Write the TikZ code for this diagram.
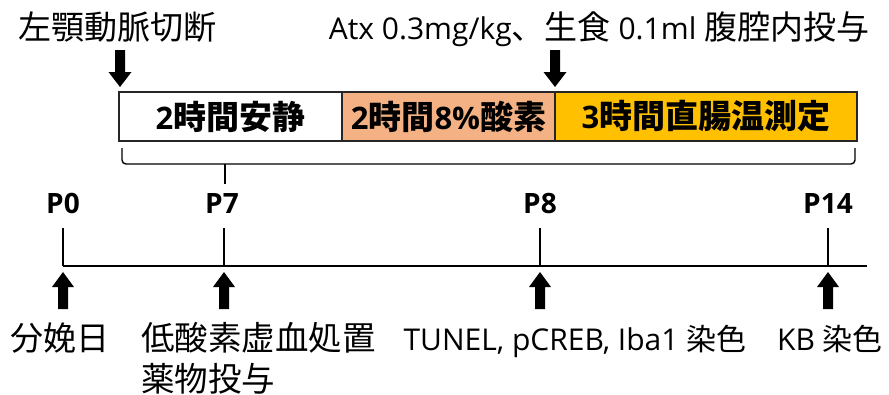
\documentclass[tikz,border=0pt]{standalone}
\usepackage{fontspec}
\setmainfont{Open Sans}
\newfontfamily\cjk{Noto Sans CJK JP}
\newcommand\jp[2][33]{{\cjk\fontsize{#1}{#1}\selectfont #2}}
\definecolor{salmon}{HTML}{F4B183}
\definecolor{gold}{HTML}{FFC000}
\begin{document}
\begin{tikzpicture}[x=1pt,y=-1pt,
  txt/.style={inner sep=0pt, anchor=base, font=\fontsize{30}{36}\selectfont},
  plabel/.style={inner sep=0pt, anchor=base, font=\bfseries\fontsize{28}{32}\selectfont},
  box/.style={draw=black!85, line width=1.2pt, inner sep=0pt, minimum height=49pt, font=\bfseries\fontsize{31}{34}\selectfont},
  axis/.style={line width=1.6pt},
  tickline/.style={line width=1.4pt},
  brk/.style={line width=1.4pt, rounded corners=4pt},
  downarr/.pic={\fill (-5,0) -- (5,0) -- (5,22) -- (11.5,22) -- (0,37) -- (-11.5,22) -- (-5,22) -- cycle;},
  uparr/.pic={\fill (0,0) -- (11,15) -- (5,15) -- (5,37) -- (-5,37) -- (-5,15) -- (-11,15) -- cycle;},
]
\useasboundingbox (0,0) rectangle (889,394);

% top labels
\node[txt] (cut) at (118,39.5) {\jp{左顎動脈切断}};
\node[txt] (atx) at (599,39.5) {Atx 0.3mg/kg\jp{、生食} 0.1ml \jp{腹腔内投与}};
\pic at (120,50) {downarr};
\pic at (555,50) {downarr};

% boxes
\node[box, minimum width=223pt] (b1) at (230.5,116.5) {2\jp{時間安静}};
\node[box, fill=salmon, minimum width=213pt] (b2) at (448.5,116.5) {2\jp{時間}8\%\jp{酸素}};
\node[box, fill=gold, minimum width=302pt] (b3) at (706,116.5) {3\jp{時間直腸温測定}};

% bracket
\coordinate (bl) at (122,148);
\coordinate (br) at (855,148);
\coordinate (bm) at (225,164);
\coordinate (bt) at (225,184);
\draw[brk] (bl) -- ++(0,16) -| (br);
\draw[brk] (bm) -- (bt);

% day labels
\node[plabel] (p0) at (63,213) {P0};
\node[plabel] (p7) at (222,213) {P7};
\node[plabel] (p8) at (540,213) {P8};
\node[plabel] (p14) at (828,213) {P14};

% timeline
\coordinate (t0) at (63,266);
\coordinate (t7) at (224,266);
\coordinate (t8) at (540,266);
\coordinate (t14) at (828,266);
\coordinate (tend) at (867,266);
\draw[axis] (t0) -- (tend);
\foreach \t in {t0,t7,t8,t14} \draw[tickline] (\t) -- ++(0,-38);

\pic at (63,272) {uparr};
\pic at (224,272) {uparr};
\pic at (540,272) {uparr};
\pic at (828,272) {uparr};

% bottom labels
\node[txt] (birth) at (60,350) {\jp[33]{分娩日}};
\node[txt, anchor=north west, align=left, font=\fontsize{33}{41}\selectfont] (hi) at (141,322) {\jp[33.5]{低酸素虚血処置}\\\jp[33.5]{薬物投与}};
\node[txt] (tunel) at (575,350) {TUNEL, pCREB, Iba1 \jp[30]{染色}};
\node[txt] (kb) at (830,350) {KB \jp[30]{染色}};
\end{tikzpicture}
\end{document}
